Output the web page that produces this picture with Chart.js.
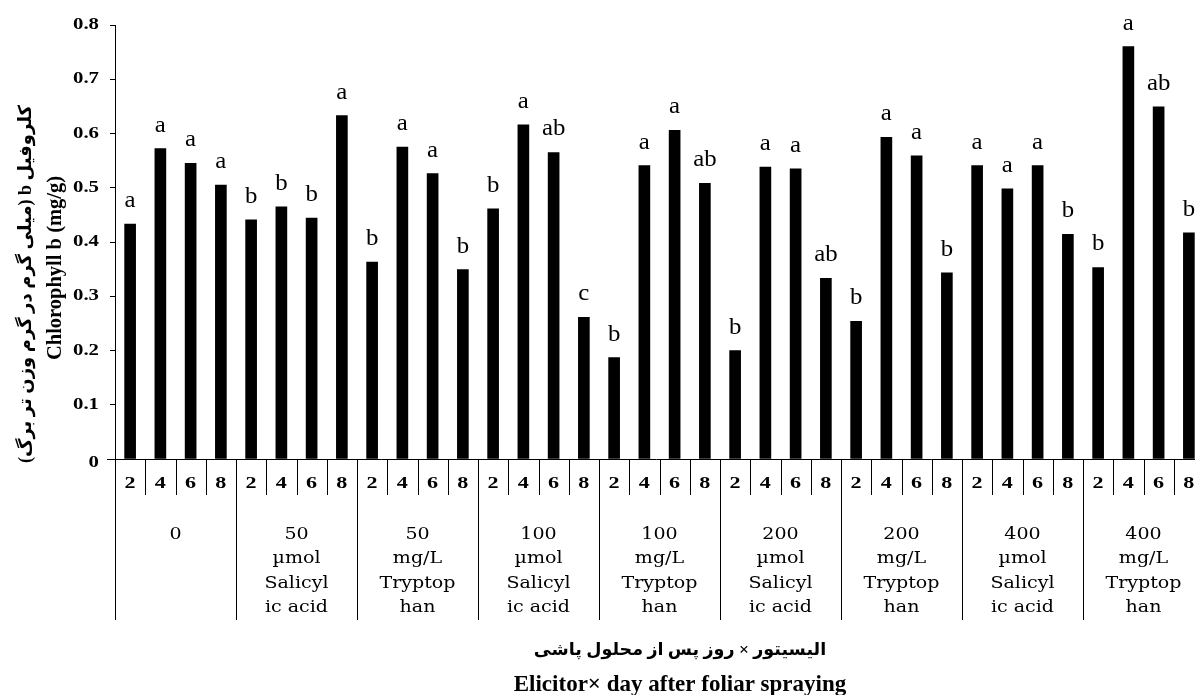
<!DOCTYPE html>
<html>
<head>
<meta charset="utf-8">
<script src="https://cdn.jsdelivr.net/npm/chart.js@4.4.1/dist/chart.umd.min.js"></script>
<style>
  html, body { margin: 0; padding: 0; background: #fff; overflow: hidden; }
  #wrap { position: relative; width: 1206px; height: 695px; }
</style>
</head>
<body>
<div id="wrap"><canvas id="chart" width="1206" height="695"></canvas></div>
<script>
// Elicitor treatments (multi-line labels under each group of four days)
const treatments = [
  ['0'],
  ['50', 'µmol', 'Salicyl', 'ic acid'],
  ['50', 'mg/L', 'Tryptop', 'han'],
  ['100', 'µmol', 'Salicyl', 'ic acid'],
  ['100', 'mg/L', 'Tryptop', 'han'],
  ['200', 'µmol', 'Salicyl', 'ic acid'],
  ['200', 'mg/L', 'Tryptop', 'han'],
  ['400', 'µmol', 'Salicyl', 'ic acid'],
  ['400', 'mg/L', 'Tryptop', 'han']
];

// Days after foliar spraying
const days = ['2', '4', '6', '8'];

// Chlorophyll b (mg/g), one value per treatment × day
const chlorophyllB = [
  0.433, 0.572, 0.545, 0.505,
  0.441, 0.465, 0.444, 0.633,
  0.363, 0.575, 0.526, 0.349,
  0.461, 0.616, 0.565, 0.261,
  0.187, 0.541, 0.606, 0.508,
  0.200, 0.538, 0.535, 0.333,
  0.254, 0.593, 0.559, 0.343,
  0.541, 0.498, 0.541, 0.414,
  0.353, 0.760, 0.649, 0.417
];

// Mean-separation letters
const letters = [
  'a', 'a', 'a', 'a',
  'b', 'b', 'b', 'a',
  'b', 'a', 'a', 'b',
  'b', 'a', 'ab', 'c',
  'b', 'a', 'a', 'ab',
  'b', 'a', 'a', 'ab',
  'b', 'a', 'a', 'b',
  'a', 'a', 'a', 'b',
  'b', 'a', 'ab', 'b'
];

const yTickLabels = ['0', '0.1', '0.2', '0.3', '0.4', '0.5', '0.6', '0.7', '0.8'];

const yTitleFa = 'کلروفیل b (میلی گرم در گرم وزن تر برگ)';
const yTitleEn = 'Chlorophyll b (mg/g)';
const xTitleFa = 'الیسیتور × روز پس از محلول پاشی';
const xTitleEn = 'Elicitor× day after foliar spraying';

const categories = [];
treatments.forEach((t, g) => days.forEach(d => categories.push(t.join(' ') + ' / ' + d)));

const SERIF = '"Liberation Serif", "Times New Roman", "DejaVu Sans", serif';
const WIDE_SERIF = '"DejaVu Serif", "Liberation Serif", serif';

function drawText(ctx, text, x, y, font, sx, opts) {
  ctx.save();
  ctx.font = font;
  ctx.fillStyle = '#000';
  ctx.textAlign = (opts && opts.align) || 'center';
  ctx.textBaseline = (opts && opts.baseline) || 'alphabetic';
  ctx.direction = (opts && opts.dir) || 'ltr';
  ctx.translate(x, y);
  if (opts && opts.rotate) ctx.rotate(opts.rotate);
  ctx.scale(sx, 1);
  ctx.fillText(text, 0, 0);
  ctx.restore();
}

function line(ctx, x1, y1, x2, y2) {
  ctx.beginPath();
  ctx.moveTo(x1, y1);
  ctx.lineTo(x2, y2);
  ctx.stroke();
}

// Draws the y tick labels, the category table below the axis, the letters and the titles
const tablePlugin = {
  id: 'tablePlugin',
  afterDraw(chart) {
    const ctx = chart.ctx;
    const xs = chart.scales.x;
    const ys = chart.scales.y;
    const n = categories.length;
    const step = (xs.getPixelForValue(n - 1) - xs.getPixelForValue(0)) / (n - 1);
    const zeroY = Math.round(ys.getPixelForValue(0)) + 0.5;

    // y tick labels (wide bold face)
    ys.ticks.forEach((t, i) => {
      const py = ys.getPixelForValue(t.value);
      drawText(ctx, yTickLabels[i], 99, py + (i === 0 ? 4 : 0), 'bold 16px ' + SERIF, 1.3,
        { align: 'right', baseline: 'middle' });
    });

    ctx.save();
    ctx.strokeStyle = '#000';
    ctx.lineWidth = 1;
    line(ctx, 107, zeroY, chart.width, zeroY);
    for (let i = 0; i <= n; i++) {
      const bx = Math.round(xs.getPixelForValue(0) + (i - 0.5) * step) + 0.5;
      const bottom = (i % days.length === 0) ? 620 : 495;
      line(ctx, bx, zeroY, bx, bottom);
    }
    ctx.restore();

    // day labels
    for (let i = 0; i < n; i++) {
      drawText(ctx, days[i % days.length], xs.getPixelForValue(i), 488,
        'bold 17px ' + SERIF, 1.3);
    }

    // treatment labels
    treatments.forEach((lines, g) => {
      const cx = (xs.getPixelForValue(g * days.length) +
                  xs.getPixelForValue(g * days.length + days.length - 1)) / 2;
      lines.forEach((txt, k) => {
        drawText(ctx, txt, cx, 539 + k * 24.4, '17px ' + WIDE_SERIF, 1.12);
      });
    });

    // letters above bars
    const meta = chart.getDatasetMeta(0);
    meta.data.forEach((bar, i) => {
      drawText(ctx, letters[i], bar.x, bar.y - 17, '23px ' + SERIF, 1.08);
    });

    // axis titles
    drawText(ctx, yTitleFa, 26, 284, 'bold 18px ' + SERIF, 1,
      { baseline: 'middle', dir: 'rtl', rotate: -Math.PI / 2 });
    drawText(ctx, yTitleEn, 56, 268, 'bold 20.5px ' + SERIF, 1,
      { baseline: 'middle', rotate: -Math.PI / 2 });
    drawText(ctx, xTitleFa, 680, 650, 'bold 17.5px ' + SERIF, 1,
      { baseline: 'middle', dir: 'rtl' });
    drawText(ctx, xTitleEn, 680, 691, 'bold 23px ' + SERIF, 1);
  }
};

new Chart(document.getElementById('chart'), {
  type: 'bar',
  data: {
    labels: categories,
    datasets: [{
      data: chlorophyllB,
      backgroundColor: '#000',
      borderWidth: 0,
      barThickness: 11
    }]
  },
  options: {
    responsive: false,
    maintainAspectRatio: false,
    devicePixelRatio: 1,
    animation: false,
    layout: { padding: { top: 25, right: 2, bottom: 236, left: 0 } },
    plugins: { legend: { display: false }, tooltip: { enabled: false } },
    scales: {
      x: { display: false, grid: { display: false } },
      y: {
        min: 0,
        max: 0.8,
        ticks: { stepSize: 0.1, display: false },
        grid: { drawOnChartArea: false, drawTicks: true, tickLength: 5, color: '#000', lineWidth: 1 },
        border: { display: true, color: '#000', width: 1 },
        afterFit(scale) { scale.width = 115; }
      }
    }
  },
  plugins: [tablePlugin]
});
</script>
</body>
</html>
